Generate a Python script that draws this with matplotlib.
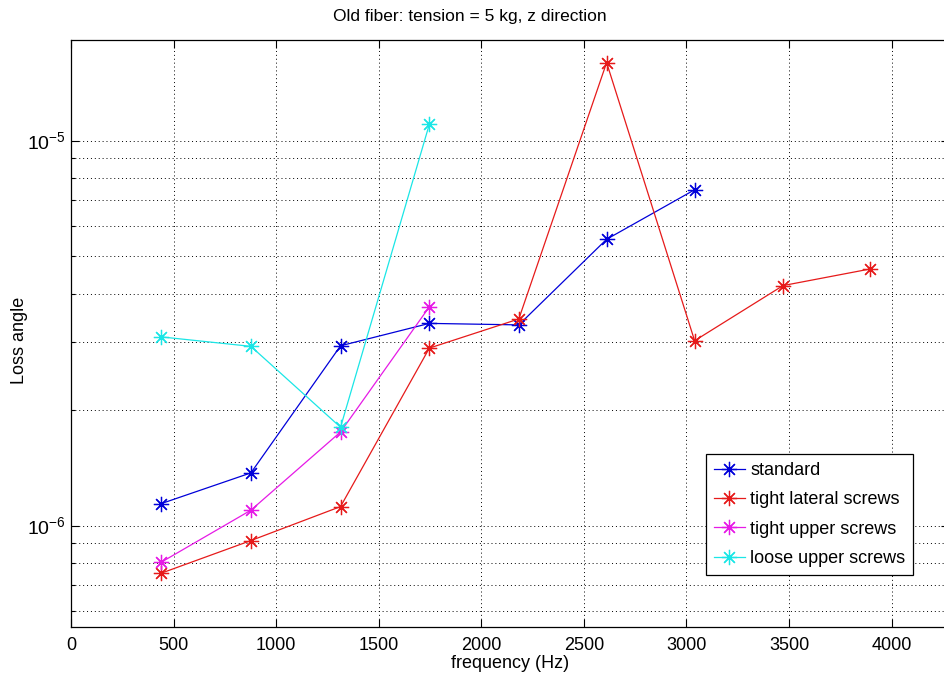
import matplotlib
matplotlib.use("Agg")
import matplotlib.pyplot as plt
from matplotlib.ticker import LogLocator, NullFormatter, MultipleLocator

plt.rcParams['font.family'] = ['Liberation Sans', 'DejaVu Sans']

# Resonance frequencies (Hz)
freq = [440, 877, 1314, 1747, 2183, 2611, 3040, 3471, 3897]

# Loss angle for each clamping configuration
standard = [1.14e-6, 1.37e-6, 2.93e-6, 3.35e-6, 3.32e-6, 5.54e-6, 7.45e-6]
tight_lateral = [7.52e-7, 9.14e-7, 1.12e-6, 2.89e-6, 3.44e-6, 1.594e-5, 3.02e-6, 4.20e-6, 4.64e-6]
tight_upper = [8.03e-7, 1.096e-6, 1.75e-6, 3.70e-6]
loose_upper = [3.09e-6, 2.92e-6, 1.80e-6, 1.103e-5]

series = [
    ("standard", standard, (0.0, 0.0, 0.85)),
    ("tight lateral screws", tight_lateral, (0.9, 0.1, 0.1)),
    ("tight upper screws", tight_upper, (0.9, 0.1, 0.9)),
    ("loose upper screws", loose_upper, (0.1, 0.9, 0.9)),
]

W, H = 944, 682
fig = plt.figure(figsize=(W / 100, H / 100), dpi=100)
left, right, top, bottom = 71, 949, 39.5, 627
ax = fig.add_axes([left / W, (H - bottom) / H, (right - left) / W, (bottom - top) / H])

asterisk = (8, 2, 0)
for name, vals, col in series:
    ax.plot(freq[:len(vals)], vals, color=col, lw=0.9, marker=asterisk,
            markersize=11, markeredgewidth=0.9, label=name)

ax.set_yscale('log')
ax.set_xlim(0, 4280)
ax.set_ylim(5.45e-7, 1.83e-5)
ax.xaxis.set_major_locator(MultipleLocator(500))
ax.yaxis.set_major_locator(LogLocator(base=10))
ax.yaxis.set_minor_locator(LogLocator(base=10, subs=range(2, 10)))
ax.yaxis.set_minor_formatter(NullFormatter())

ax.grid(True, which='major', color='black', linestyle=(0, (1, 3)), linewidth=0.7)
ax.grid(True, which='minor', axis='y', color='black', linestyle=(0, (1, 3)), linewidth=0.7)

ax.tick_params(which='both', direction='in', top=True, right=True, labelsize=13)
ax.tick_params(axis='x', which='major', pad=7)
ax.tick_params(axis='y', which='major', pad=4, labelsize=14)
ax.tick_params(which='major', length=6, width=0.8)
ax.tick_params(which='minor', length=3, width=0.8)
for sp in ax.spines.values():
    sp.set_linewidth(0.9)

ax.set_xlabel("frequency (Hz)", fontsize=13, labelpad=1)
fig.text(20 / W, (H - 340) / H, "Loss angle", rotation=90,
         ha='center', va='center', fontsize=13)
fig.text(470 / W, (H - 17) / H, "Old fiber: tension = 5 kg, z direction",
         ha='center', va='center', fontsize=12.5)

leg = ax.legend(loc='upper left', bbox_to_anchor=(706 / W, (H - 454) / H),
                bbox_transform=fig.transFigure, fontsize=13, frameon=True,
                fancybox=False, edgecolor='black', framealpha=1,
                borderpad=0.45, labelspacing=0.68, handlelength=1.7,
                handletextpad=0.3, borderaxespad=0)
leg.get_frame().set_linewidth(0.9)

fig.savefig("out.png", dpi=100)
